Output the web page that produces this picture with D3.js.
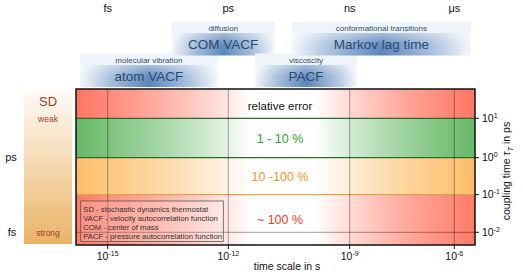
<!DOCTYPE html>
<html><head><meta charset="utf-8">
<script src="https://cdn.jsdelivr.net/npm/d3@7"></script>
<style>body{margin:0;background:#fff}svg{display:block;font-family:"Liberation Sans",Arial,sans-serif}</style>
</head><body>
<svg id="c" width="523" height="276"></svg>
<script>
// ---- data ----
const xTickExp = [-15, -12, -9, -6];
const xTopLabels = ["fs", "ps", "ns", "\u03bcs"];
const yTickExp = [1, 0, -1, -2];
const bandNames = ["relative error", "1 - 10 %", "10 -100 %", "~ 100 %"];
const bandFrom = [1.75, 1, 0, -1];      // log10 coupling time (ps)
const bandTo = [1, 0, -1, -2.35];
const bandColors = ["#ff7562", "#66b866", "#fdbd68", "#ff7b68"];
const bandTextColors = ["#111", "#2e9b2e", "#f7931e", "#f03a24"];
const boxLabels = ["atom VACF", "COM VACF", "PACF", "Markov lag time"];
const boxCaptions = ["molecular vibration", "diffusion", "viscoscity", "conformational transitions"];
const boxFrom = [-15.70, -13.41, -11.34, -10.43]; // log10 time in s
const boxTo = [-12.26, -10.85, -8.79, -5.52];
const boxRow = [0, 1, 0, 1];
const legendLines = ["SD - stochastic dynamics thermostat", "VACF - velocity autocorrelation function", "COM - center of mass", "PACF - pressure autocorrelation function"];

const svg = d3.select("#c");
const defs = svg.append("defs");
// polylinear log-style scales (schematic figure axis)
const x = d3.scaleLinear().domain([-15.8, -15, -12, -9, -6, -5.4]).range([76, 107.7, 228.3, 349.7, 454.3, 475]);
const y = d3.scaleLinear().domain([1.75, 1, 0, -1, -2, -2.35]).range([89, 118.3, 157.7, 194.7, 232.3, 245]);
const X0 = x(-15.8), X1 = x(-5.4), Y0 = y(1.75), Y1 = y(-2.35);

// gradients for bands
bandColors.forEach((c, i) => {
  const g = defs.append("linearGradient").attr("id", "bg" + i).attr("x1", 0).attr("x2", 1).attr("y1", 0).attr("y2", 0);
  [[0, c, 1], [0.1, c, 0.8], [0.44, "#fff", 1], [0.6, "#fff", 1], [0.9, c, 0.8], [1, c, 1]].forEach(s =>
    g.append("stop").attr("offset", s[0]).attr("stop-color", s[1]).attr("stop-opacity", s[2]));
});
// blue box gradients
const bh = defs.append("linearGradient").attr("id", "bluH").attr("x1", 0).attr("x2", 1).attr("y1", 0).attr("y2", 0);
[[0, "#f4f7fb"], [0.22, "#a6bedb"], [0.5, "#5a86bc"], [0.78, "#a6bedb"], [1, "#f4f7fb"]].forEach(s => bh.append("stop").attr("offset", s[0]).attr("stop-color", s[1]));
const bv = defs.append("linearGradient").attr("id", "bluV").attr("x1", 0).attr("x2", 0).attr("y1", 0).attr("y2", 1);
[[0, "#fff", 0.45], [0.5, "#fff", 0.05], [1, "#fff", 0]].forEach(s => bv.append("stop").attr("offset", s[0]).attr("stop-color", s[1]).attr("stop-opacity", s[2]));
const sdg = defs.append("linearGradient").attr("id", "sdg").attr("x1", 0).attr("x2", 0).attr("y1", 0).attr("y2", 1);
[[0, "#fffaf6"], [1, "#eab366"]].forEach(s => sdg.append("stop").attr("offset", s[0]).attr("stop-color", s[1]));

// top labels
svg.selectAll(".tl").data(xTickExp).join("text").attr("x", d => x(d)).attr("y", 12)
  .attr("text-anchor", "middle").attr("font-size", 11).attr("fill", "#111").text((d, i) => xTopLabels[i]);

// blue boxes
const rowY = [[53.5, 65, 87], [22, 33, 55.5]];
boxLabels.forEach((lab, i) => {
  const r = rowY[boxRow[i]], xa = x(boxFrom[i]), xb = x(boxTo[i]), w = xb - xa;
  svg.append("rect").attr("x", xa).attr("y", r[0]).attr("width", w).attr("height", r[1] - r[0]).attr("fill", "#eef4f9");
  svg.append("rect").attr("x", xa).attr("y", r[1]).attr("width", w).attr("height", r[2] - r[1]).attr("fill", "url(#bluH)");
  svg.append("rect").attr("x", xa).attr("y", r[1]).attr("width", w).attr("height", r[2] - r[1]).attr("fill", "url(#bluV)");
  svg.append("text").attr("x", xa + w / 2).attr("y", r[1] - 2.5).attr("text-anchor", "middle").attr("font-size", 8).attr("fill", "#2c4d78").text(boxCaptions[i]);
  svg.append("text").attr("x", xa + w / 2).attr("y", r[1] + 16).attr("text-anchor", "middle").attr("font-size", 13.5).attr("fill", "#2c4a72").text(lab);
});

// SD bar
svg.append("rect").attr("x", 24).attr("y", 92).attr("width", 48).attr("height", 152).attr("fill", "url(#sdg)");
svg.append("text").attr("x", 48).attr("y", 106).attr("text-anchor", "middle").attr("font-size", 13).attr("fill", "#a23a26").text("SD");
svg.append("text").attr("x", 48).attr("y", 122).attr("text-anchor", "middle").attr("font-size", 8.5).attr("fill", "#a23a26").text("weak");
svg.append("text").attr("x", 48).attr("y", 236).attr("text-anchor", "middle").attr("font-size", 8.5).attr("fill", "#a23a26").text("strong");
svg.append("text").attr("x", 11).attr("y", 161).attr("text-anchor", "middle").attr("font-size", 11).attr("fill", "#111").text("ps");
svg.append("text").attr("x", 12).attr("y", 236).attr("text-anchor", "middle").attr("font-size", 11).attr("fill", "#111").text("fs");

// bands
bandNames.forEach((n, i) => {
  const ya = y(bandFrom[i]), yb = y(bandTo[i]);
  svg.append("rect").attr("x", X0).attr("y", ya).attr("width", X1 - X0).attr("height", yb - ya).attr("fill", "url(#bg" + i + ")");
});
// band borders
svg.append("line").attr("x1", X0).attr("x2", X1).attr("y1", y(1)).attr("y2", y(1)).attr("stroke", "#2d6a2d").attr("stroke-width", 1.2);
svg.append("line").attr("x1", X0).attr("x2", X1).attr("y1", y(0)).attr("y2", y(0)).attr("stroke", "#2d6a2d").attr("stroke-width", 1.2);
svg.append("line").attr("x1", X0).attr("x2", X1).attr("y1", y(-1)).attr("y2", y(-1)).attr("stroke", "#e0a050").attr("stroke-width", 1.2);
// grid
svg.selectAll(".gx").data(xTickExp).join("line").attr("x1", d => x(d)).attr("x2", d => x(d)).attr("y1", Y0).attr("y2", Y1)
  .attr("stroke", "#000").attr("stroke-opacity", 0.3).attr("stroke-width", 1.2);
svg.append("line").attr("x1", X0).attr("x2", X1).attr("y1", y(-2)).attr("y2", y(-2)).attr("stroke", "#000").attr("stroke-opacity", 0.3).attr("stroke-width", 1.2);

// band texts
const cx = 280;
bandNames.forEach((n, i) => {
  const ym = (y(bandFrom[i]) + y(bandTo[i])) / 2;
  svg.append("text").attr("x", cx).attr("y", (i === 0 ? 110 : ym + 4.5)).attr("text-anchor", "middle")
    .attr("font-size", i === 0 ? 11.5 : 12.5).attr("fill", bandTextColors[i]).text(n);
});

// legend
svg.append("rect").attr("x", 80.7).attr("y", 201).attr("width", 142.6).attr("height", 40.5).attr("fill", "#fff").attr("fill-opacity", 0.15).attr("stroke", "#555").attr("stroke-width", 0.8);
legendLines.forEach((t, i) => svg.append("text").attr("x", 83.3).attr("y", 211.6 + i * 9.1).attr("font-size", 7.7).attr("fill", "#333").text(t));

// frame
svg.append("rect").attr("x", X0).attr("y", Y0).attr("width", X1 - X0).attr("height", Y1 - Y0).attr("fill", "none").attr("stroke", "#111").attr("stroke-width", 1.5);

// x axis
const xa = svg.append("g").attr("transform", `translate(0,${Y1})`);
xa.selectAll("line").data(xTickExp).join("line").attr("x1", d => x(d)).attr("x2", d => x(d)).attr("y1", 0).attr("y2", 4).attr("stroke", "#111");
const xt = xa.selectAll("text").data(xTickExp).join("text").attr("x", d => x(d)).attr("y", 15).attr("text-anchor", "middle").attr("font-size", 10.5).attr("fill", "#111");
xt.append("tspan").text("10");
xt.append("tspan").attr("dy", -4).attr("font-size", 7).text(d => (d < 0 ? "-" : "") + Math.abs(d));
svg.append("text").attr("x", 287).attr("y", 270).attr("text-anchor", "middle").attr("font-size", 10.5).attr("fill", "#111").text("time scale in s");

// y axis right
const ya = svg.append("g").attr("transform", `translate(${X1},0)`);
ya.selectAll("line").data(yTickExp).join("line").attr("x1", 0).attr("x2", 4).attr("y1", d => y(d)).attr("y2", d => y(d)).attr("stroke", "#111");
const yt = ya.selectAll("text").data(yTickExp).join("text").attr("x", 7).attr("y", d => y(d) + 3.5).attr("font-size", 10.5).attr("fill", "#111");
yt.append("tspan").text("10");
yt.append("tspan").attr("dy", -4).attr("font-size", 7).text(d => (d < 0 ? "-" : "") + Math.abs(d));
const yl = svg.append("text").attr("transform", "translate(510,171) rotate(-90)").attr("text-anchor", "middle").attr("font-size", 10.5).attr("fill", "#111");
yl.append("tspan").text("coupling time ");
yl.append("tspan").attr("font-style", "italic").text("\u03c4");
yl.append("tspan").attr("font-style", "italic").attr("font-size", 7.5).attr("dy", 2.5).text("T");
yl.append("tspan").attr("dy", -2.5).text(" in ps");
</script>
</body></html>
